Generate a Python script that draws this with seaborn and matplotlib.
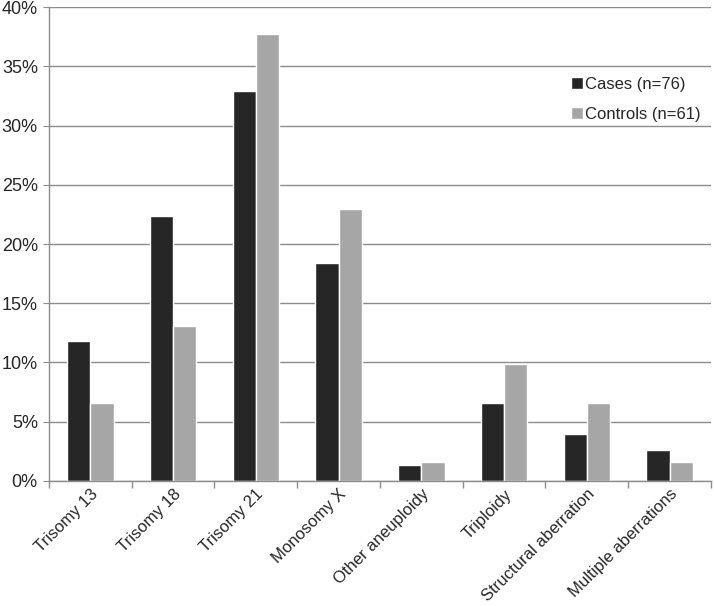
import matplotlib
matplotlib.use("Agg")
import matplotlib.pyplot as plt
import matplotlib.ticker as mtick
import numpy as np
import pandas as pd
import seaborn as sns

categories = ["Trisomy 13", "Trisomy 18", "Trisomy 21", "Monosomy X",
              "Other aneuploidy", "Triploidy", "Structural aberration",
              "Multiple aberrations"]
cases = [11.84, 22.37, 32.89, 18.42, 1.32, 6.58, 3.95, 2.63]
controls = [6.56, 13.11, 37.70, 22.95, 1.64, 9.84, 6.56, 1.64]
groups = ["Cases (n=76)", "Controls (n=61)"]

df = pd.DataFrame({
    "category": categories * 2,
    "value": cases + controls,
    "group": [groups[0]] * len(categories) + [groups[1]] * len(categories),
})

sns.set_style("white")
plt.rcParams["font.family"] = ["Liberation Sans", "DejaVu Sans"]

fig = plt.figure(figsize=(7.14, 6.06), dpi=100)
ax = fig.add_axes([0.0686, 0.2063, 0.9272, 0.7821])

sns.barplot(data=df, x="category", y="value", hue="group", order=categories,
            hue_order=groups, palette=["#262626", "#a6a6a6"], width=0.56,
            gap=0, saturation=1, ax=ax)

ax.set_ylim(0, 40)
ax.set_xlim(-0.5, len(categories) - 0.5)
ax.set_yticks(np.arange(0, 41, 5))
ax.yaxis.set_major_formatter(mtick.FormatStrFormatter("%d%%"))
ax.yaxis.grid(True, color="#8c8c8c", linewidth=1)
ax.set_axisbelow(True)
ax.set_xlabel("")
ax.set_ylabel("")

for s in ["top", "right"]:
    ax.spines[s].set_visible(False)
for s in ["left", "bottom"]:
    ax.spines[s].set_color("#8c8c8c")
    ax.spines[s].set_linewidth(1)

ax.tick_params(axis="y", left=True, length=4, color="#8c8c8c", labelsize=13, pad=4)
ax.tick_params(axis="x", which="major", length=0, labelsize=12, pad=4)
ax.set_xticks(np.arange(-0.5, len(categories), 1), minor=True)
ax.tick_params(axis="x", which="minor", bottom=True, length=5, color="#8c8c8c", width=1)
plt.setp(ax.get_xticklabels(), rotation=45, ha="right", rotation_mode="anchor")

ax.legend(loc="upper left", bbox_to_anchor=(0.766, 0.885), frameon=False,
          fontsize=12, handlelength=0.7, handleheight=0.7, labelspacing=0.9,
          handletextpad=0.15)

fig.savefig("out.png", dpi=100)
